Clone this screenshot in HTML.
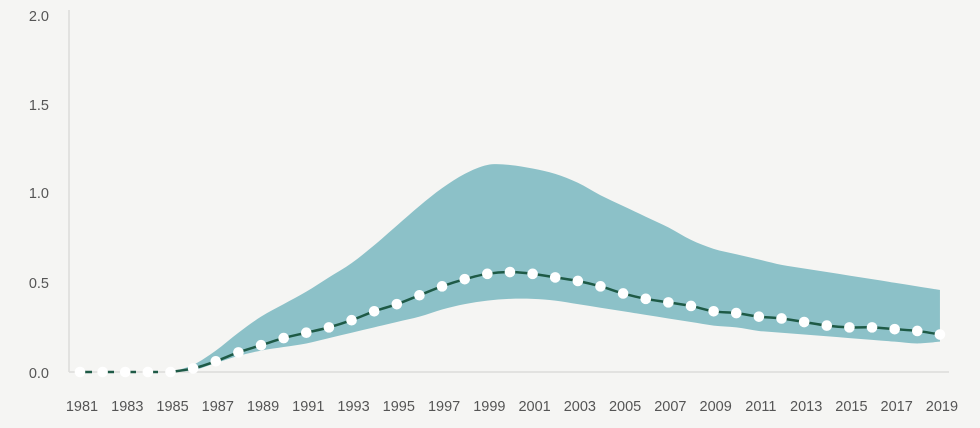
<!DOCTYPE html>
<html><head><meta charset="utf-8"><style>
html,body{margin:0;padding:0;background:#f5f5f3;}
svg{display:block;font-family:"Liberation Sans",sans-serif;}
</style></head><body>
<svg id="c" width="980" height="428" viewBox="0 0 980 428" xmlns="http://www.w3.org/2000/svg">
<rect width="980" height="428" fill="#f5f5f3"/>
<line x1="69" y1="10" x2="69" y2="372" stroke="#dcdcda" stroke-width="1.5"/>
<line x1="69" y1="372" x2="949" y2="372" stroke="#dcdcda" stroke-width="1.5"/>
<g font-size="14.5" fill="#555" text-anchor="end">
<text x="49" y="21">2.0</text><text x="49" y="110">1.5</text><text x="49" y="198">1.0</text><text x="49" y="288">0.5</text><text x="49" y="378">0.0</text>
</g>
<g id="xl" font-size="14.5" fill="#555" text-anchor="middle"></g>
<path id="band" fill="#8cc1c8"/>
<path id="dash" fill="none" stroke="#1e5a46" stroke-width="2.5" stroke-dasharray="12,10"/>
<path id="line" fill="none" stroke="#1e5a46" stroke-width="2.5"/>
<g id="dots" fill="#fff"></g>
</svg>
<script>
var m=[0,0,0,0,0,.02,.06,.11,.15,.19,.22,.25,.29,.34,.38,.43,.48,.52,.55,.56,.55,.53,.51,.48,.44,.41,.39,.37,.34,.33,.31,.30,.28,.26,.25,.25,.24,.23,.21];
var up=[.04,.12,.22,.31,.38,.45,.53,.61,.71,.82,.93,1.03,1.11,1.16,1.16,1.14,1.11,1.06,.99,.93,.87,.81,.74,.69,.66,.63,.60,.58,.56,.54,.52,.50,.48,.46];
var lo=[.01,.05,.09,.12,.14,.16,.19,.22,.25,.28,.31,.35,.38,.40,.41,.41,.40,.38,.36,.34,.32,.30,.28,.26,.25,.23,.22,.21,.20,.19,.18,.17,.16,.17];
function X(i){return 80+i*22.63}function Y(v){return 372-v*178.5}
function smooth(pts){var d="M"+pts[0][0]+","+pts[0][1];for(var i=0;i<pts.length-1;i++){var p0=pts[i-1]||pts[i],p1=pts[i],p2=pts[i+1],p3=pts[i+2]||p2;d+="C"+(p1[0]+(p2[0]-p0[0])/6)+","+(p1[1]+(p2[1]-p0[1])/6)+" "+(p2[0]-(p3[0]-p1[0])/6)+","+(p2[1]-(p3[1]-p1[1])/6)+" "+p2[0]+","+p2[1];}return d;}
var U=[[X(4),Y(0)]],L=[];
for(var i=0;i<up.length;i++){U.push([X(i+5),Y(up[i])]);}
for(var i=lo.length-1;i>=0;i--){L.push([X(i+5),Y(lo[i])]);}
L.push([X(4),Y(0)]);
document.getElementById('band').setAttribute('d',smooth(U)+"L"+L[0][0]+","+L[0][1]+smooth(L).slice(smooth(L).indexOf("C"))+"Z");
document.getElementById('dash').setAttribute('d',"M"+X(0)+","+Y(0)+"L"+X(4)+","+Y(0));
var P=[];for(var i=4;i<m.length;i++)P.push([X(i),Y(m[i])]);
document.getElementById('line').setAttribute('d',smooth(P));
var ds="",xl="";
for(var i=0;i<m.length;i++){ds+='<circle cx="'+X(i)+'" cy="'+Y(m[i])+'" r="5.3"/>';}
for(var i=0;i<m.length;i+=2){xl+='<text x="'+(X(i)+2)+'" y="411">'+(1981+i)+'</text>';}
document.getElementById('dots').innerHTML=ds;
document.getElementById('xl').innerHTML=xl;
</script>
</body></html>
